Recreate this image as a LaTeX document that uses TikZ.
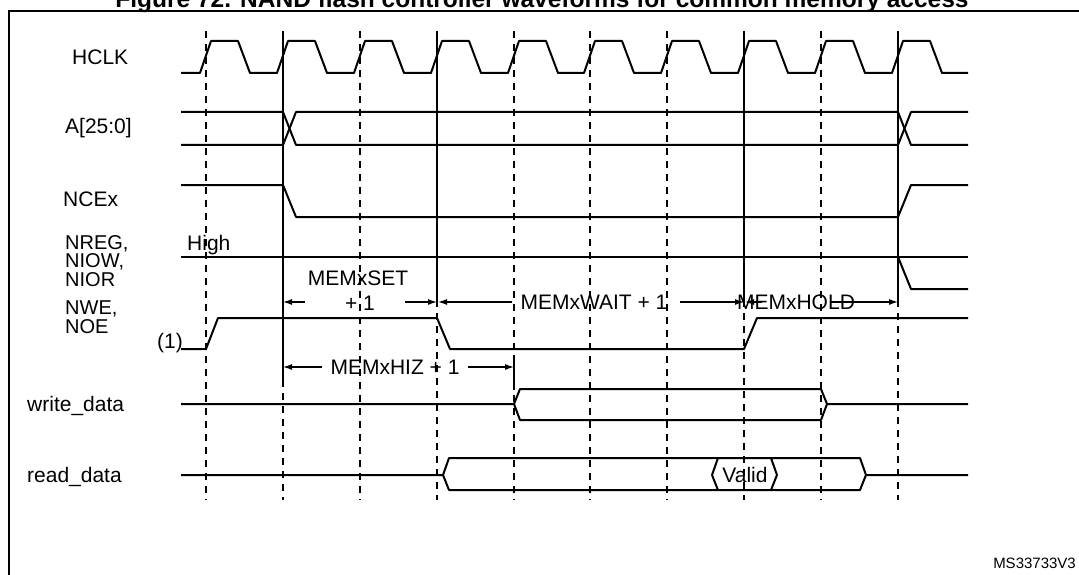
\documentclass[tikz,border=0pt]{standalone}
\usepackage{fontspec}
\setmainfont{Liberation Sans}
\usetikzlibrary{arrows.meta}
\begin{document}
\begin{tikzpicture}[x=1pt,y=-1pt,
  sig/.style={line width=2pt,line join=round},
  vl/.style={line width=1.2pt},
  dl/.style={line width=1.2pt,dash pattern=on 7pt off 6pt},
  dim/.style={line width=1.2pt,-{Latex[length=9pt,width=6pt]}},
  lab/.style={font=\fontsize{21}{22}\selectfont,inner sep=0pt},
  stack/.style={font=\fontsize{20}{18.5}\selectfont,inner sep=0pt,align=left}]
\useasboundingbox (0,0) rectangle (1079,575);
\fill[white] (0,0) rectangle (1079,575);
\node[font=\bfseries\fontsize{24.5}{26}\selectfont,anchor=base] (title) at (542,8) {Figure 72. NAND flash controller waveforms for common memory access};
\draw[line width=1.5pt] (1090,11) -- (9,11) -- (9,590);
% vertical grid
\foreach \x in {206,360,514,590,667,821}{\draw[dl] (\x,31) -- (\x,500);}
\draw[vl] (283,31) -- (283,380); \draw[dl] (283,380) -- (283,500);
\foreach \x in {437,744,898}{\draw[vl] (\x,31) -- (\x,300); \draw[dl] (\x,300) -- (\x,500);}
\draw[vl] (514,355) -- (514,390);
% labels
\node[lab,anchor=west] (hclk) at (72,57) {HCLK};
\node[lab,anchor=west] (addr) at (65,128) {A[25:0]};
\node[lab,anchor=west] (nce) at (63,199) {NCEx};
\node[stack,anchor=north west] (nreg) at (65,235) {NREG,\\NIOW,\\NIOR};
\node[stack,anchor=north west] (nwe) at (65,301) {NWE,\\NOE};
\node[lab,anchor=west] (wd) at (27,406) {write\_data};
\node[lab,anchor=west] (rd) at (27,477) {read\_data};
\node[lab,anchor=west] (high) at (187,245) {High};
\node[lab,anchor=west] (one) at (157,343) {(1)};
% HCLK
\draw[sig] (181,73)
  \foreach \t in {206,283,360,437,514,590,667,744,821,898}{
   -- (\t-6,73) -- (\t+5,41) -- (\t+32,41) -- (\t+44,73)} -- (968,73);
% A
\draw[sig] (181,112) -- (283,112) -- (296,145) -- (898,145) -- (911,112) -- (968,112);
\draw[sig] (181,145) -- (283,145) -- (296,112) -- (898,112) -- (911,145) -- (968,145);
% NCE
\draw[sig] (181,185) -- (283,185) -- (296,217) -- (898,217) -- (911,185) -- (968,185);
% NREG
\draw[sig] (181,257) -- (968,257);
\draw[sig] (898,257) -- (911,289) -- (968,289);
% NWE
\draw[sig] (181,349) -- (206,349) -- (218,318) -- (437,318) -- (450,349) -- (744,349) -- (757,318) -- (968,318);
% write_data
\draw[sig] (181,404) -- (514,404) -- (520,389) -- (821,389) -- (827,404) -- (968,404);
\draw[sig] (514,404) -- (520,420) -- (821,420) -- (827,404);
% read_data
\draw[sig] (181,475) -- (443,475) -- (449,458) -- (860,458) -- (866,475) -- (968,475);
\draw[sig] (443,475) -- (449,490) -- (860,490) -- (866,475);
\draw[sig] (712,475) -- (718,458) (712,475) -- (718,490);
\draw[sig] (777,475) -- (771,458) (777,475) -- (771,490);
\node[lab] (valid) at (745,475) {Valid};
% dimensions
\node[lab] (set) at (358,278) {MEMxSET};
\node[lab] (setp) at (360,303) {+ 1};
\coordinate (s0) at (283,302); \coordinate (s1) at (437,302);
\draw[dim] (305,302) -- (s0); \draw[dim] (405,302) -- (s1);
\node[lab] (wait) at (594,302) {MEMxWAIT + 1};
\coordinate (w1) at (744,302);
\draw[dim] (512,302) -- ([xshift=1pt]s1); \draw[dim] (680,302) -- (w1);
\node[lab] (hold) at (796,302) {MEMxHOLD};
\coordinate (h1) at (898,302);
\draw[dim] (762,302) -- ([xshift=1pt]w1); \draw[dim] (830,302) -- (h1);
\node[lab] (hiz) at (395,367) {MEMxHIZ + 1};
\coordinate (z1) at (514,367);
\draw[dim] (322,367) -- (s0|-z1); \draw[dim] (468,367) -- (z1);
\node[font=\fontsize{15}{16}\selectfont,anchor=east,inner sep=0pt] (ms) at (1076,563) {MS33733V3};
\end{tikzpicture}
\end{document}
